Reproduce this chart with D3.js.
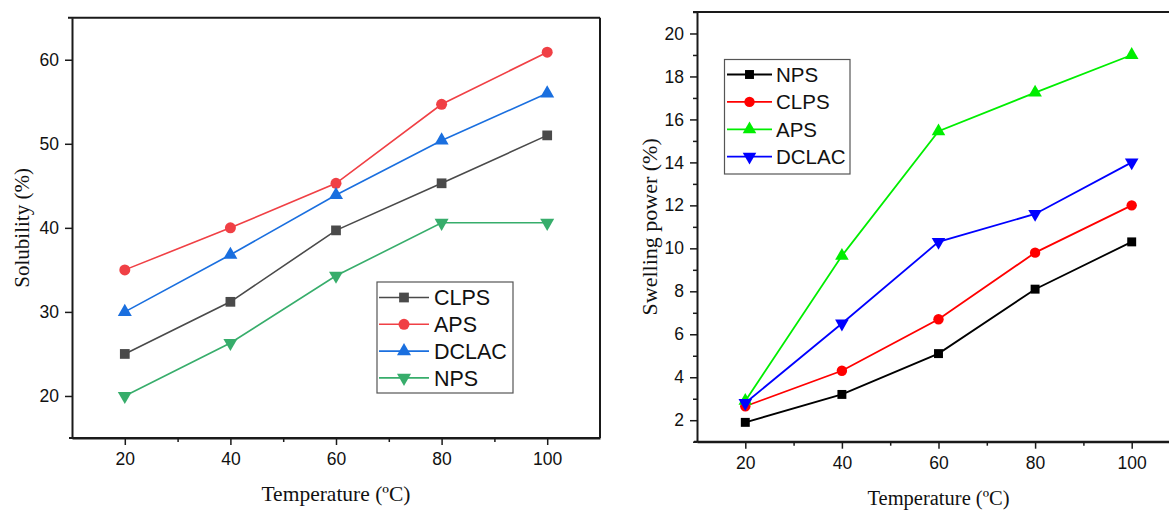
<!DOCTYPE html>
<html>
<head>
<meta charset="utf-8">
<script src="https://cdn.jsdelivr.net/npm/d3@7"></script>
<style>
  html, body { margin: 0; padding: 0; background: #fff; }
  svg { display: block; }
</style>
</head>
<body>
<svg id="chart" width="1169" height="510"></svg>
<script>
// ---------- DATA ----------
const temperatures = [20, 40, 60, 80, 100];
const xTickValues = [20, 40, 60, 80, 100];
const xMinorValues = [30, 50, 70, 90];

// Left panel: Solubility (%)
const solubilityCLPS  = [25, 31.2, 39.7, 45.3, 51.0];
const solubilityAPS   = [35, 40.0, 45.3, 54.7, 60.9];
const solubilityDCLAC = [30, 36.8, 43.9, 50.4, 56.0];
const solubilityNPS   = [20, 26.3, 34.3, 40.6, 40.6];
const solubilityYTicks = [20, 30, 40, 50, 60];
const solubilityNames = ["CLPS", "APS", "DCLAC", "NPS"];

// Right panel: Swelling power (%)
const swellingNPS   = [1.9, 3.2, 5.1, 8.1, 10.3];
const swellingCLPS  = [2.65, 4.3, 6.7, 9.8, 12.0];
const swellingAPS   = [2.9, 9.65, 15.45, 17.25, 19.0];
const swellingDCLAC = [2.8, 6.5, 10.3, 11.6, 14.0];
const swellingYTicks = [2, 4, 6, 8, 10, 12, 14, 16, 18, 20];
const swellingYMinor = [1, 3, 5, 7, 9, 11, 13, 15, 17, 19, 21];
const swellingNames = ["NPS", "CLPS", "APS", "DCLAC"];

// ---------- DRAW ----------
const svg = d3.select("#chart");
svg.append("rect").attr("width", 1169).attr("height", 510).attr("fill", "#fff");

const sans = "'Liberation Sans', Arial, sans-serif";
const serif = "'Liberation Serif', 'Times New Roman', serif";

function markerPath(type, size) {
  if (type === "square") return d3.symbol(d3.symbolSquare, size)();
  if (type === "circle") return d3.symbol(d3.symbolCircle, size)();
  return d3.symbol(d3.symbolTriangle, size)();
}

function drawPanel(cfg) {
  const g = svg.append("g");
  const x = d3.scaleLinear().domain([10, 110]).range([cfg.x0, cfg.x1]);
  const y = d3.scaleLinear().domain(cfg.yDomain).range([cfg.y0, cfg.y1]);

  // frame (top & right)
  g.append("line").attr("x1", cfg.x0 - 4).attr("x2", cfg.x1).attr("y1", cfg.y1).attr("y2", cfg.y1)
    .attr("stroke", "#1a1a1a").attr("stroke-width", 2);
  g.append("line").attr("x1", cfg.x1).attr("x2", cfg.x1).attr("y1", cfg.y1).attr("y2", cfg.y0)
    .attr("stroke", "#1a1a1a").attr("stroke-width", 2);

  // minor ticks
  const xMinor = g.append("g").attr("transform", `translate(0,${cfg.y0})`)
    .call(d3.axisBottom(x).tickValues(xMinorValues).tickSize(cfg.minorLen).tickSizeOuter(0).tickFormat(""));
  xMinor.select(".domain").remove();
  xMinor.selectAll("line").attr("stroke", "#1a1a1a").attr("stroke-width", 1.5);
  if (cfg.yMinor) {
    const yMinor = g.append("g").attr("transform", `translate(${cfg.x0},0)`)
      .call(d3.axisLeft(y).tickValues(cfg.yMinor).tickSize(cfg.minorLen).tickSizeOuter(0).tickFormat(""));
    yMinor.select(".domain").remove();
    yMinor.selectAll("line").attr("stroke", "#1a1a1a").attr("stroke-width", 1.5);
  }

  // major axes
  const xAxis = g.append("g").attr("transform", `translate(0,${cfg.y0})`)
    .call(d3.axisBottom(x).tickValues(xTickValues).tickSize(cfg.majorLen).tickSizeOuter(0).tickPadding(8));
  const yAxis = g.append("g").attr("transform", `translate(${cfg.x0},0)`)
    .call(d3.axisLeft(y).tickValues(cfg.yTicks).tickSize(cfg.majorLen).tickSizeOuter(0).tickPadding(6));
  [xAxis, yAxis].forEach(a => {
    a.select(".domain").attr("stroke", "#1a1a1a").attr("stroke-width", 2);
    a.selectAll(".tick line").attr("stroke", "#1a1a1a").attr("stroke-width", 1.5);
    a.selectAll(".tick text").attr("fill", "#111").style("font-family", sans).style("font-size", cfg.tickFont + "px");
  });
  // extend the x-axis line slightly to the left (as in the original)
  g.append("line").attr("x1", cfg.x0 - 3).attr("x2", cfg.x1).attr("y1", cfg.y0).attr("y2", cfg.y0)
    .attr("stroke", "#1a1a1a").attr("stroke-width", 2);

  // series
  const line = d3.line().x((d, i) => x(temperatures[i])).y(d => y(d));
  cfg.series.forEach(s => {
    g.append("path").datum(s.values).attr("d", line)
      .attr("fill", "none").attr("stroke", s.color).attr("stroke-width", cfg.lineWidth);
    g.selectAll(null).data(s.values).enter().append("path")
      .attr("d", markerPath(s.marker, s.size))
      .attr("transform", (d, i) => `translate(${x(temperatures[i])},${y(d)})${s.down ? " rotate(180)" : ""}`)
      .attr("fill", s.color);
  });

  // legend
  const L = cfg.legend;
  g.append("rect").attr("x", L.x).attr("y", L.y).attr("width", L.w).attr("height", L.h)
    .attr("fill", "#fff").attr("stroke", "#555").attr("stroke-width", 1.2);
  cfg.series.forEach((s, i) => {
    const cy = L.firstY + i * L.step;
    g.append("line").attr("x1", L.lineX0).attr("x2", L.lineX1).attr("y1", cy).attr("y2", cy)
      .attr("stroke", s.color).attr("stroke-width", cfg.lineWidth);
    g.append("path").attr("d", markerPath(s.marker, s.size))
      .attr("transform", `translate(${(L.lineX0 + L.lineX1) / 2},${cy})${s.down ? " rotate(180)" : ""}`)
      .attr("fill", s.color);
    g.append("text").attr("x", L.textX).attr("y", cy).attr("dy", "0.36em")
      .style("font-family", sans).style("font-size", L.font + "px").attr("fill", "#111")
      .text(s.name);
  });

  // axis titles
  g.append("text").attr("x", (cfg.x0 + Math.min(cfg.x1, 1180)) / 2).attr("y", cfg.xTitleY)
    .attr("text-anchor", "middle").style("font-family", serif).style("font-size", cfg.xTitleFont + "px")
    .attr("fill", "#111").text("Temperature (\u00BAC)");
  g.append("text")
    .attr("transform", `translate(${cfg.yTitleX},${(cfg.y0 + cfg.y1) / 2}) rotate(-90)`)
    .attr("text-anchor", "middle").style("font-family", serif).style("font-size", cfg.yTitleFont + "px")
    .attr("fill", "#111").text(cfg.yTitle);
}

const leftColors = { CLPS: "#4a4a4a", APS: "#f04045", DCLAC: "#1a6fdf", NPS: "#37ad6b" };
drawPanel({
  x0: 72, x1: 600, y0: 438, y1: 17.7,
  yDomain: [15, 65], yTicks: solubilityYTicks, yMinor: null,
  majorLen: 7, minorLen: 4, tickFont: 17.5, lineWidth: 1.6,
  series: [
    { name: solubilityNames[0], values: solubilityCLPS,  color: leftColors.CLPS,  marker: "square",   size: 95 },
    { name: solubilityNames[1], values: solubilityAPS,   color: leftColors.APS,   marker: "circle",   size: 95 },
    { name: solubilityNames[2], values: solubilityDCLAC, color: leftColors.DCLAC, marker: "triangle", size: 85 },
    { name: solubilityNames[3], values: solubilityNPS,   color: leftColors.NPS,   marker: "triangle", size: 85, down: true }
  ],
  legend: { x: 377, y: 282, w: 136, h: 111, firstY: 297.5, step: 26.8, lineX0: 379, lineX1: 429, textX: 434, font: 21.5 },
  xTitleY: 501, xTitleFont: 21.5,
  yTitle: "Solubility (%)", yTitleX: 29, yTitleFont: 21
});

const rightColors = { NPS: "#000000", CLPS: "#ff0000", APS: "#00ee00", DCLAC: "#0000ff" };
drawPanel({
  x0: 697, x1: 1180, y0: 441.7, y1: 12,
  yDomain: [1, 21], yTicks: swellingYTicks, yMinor: swellingYMinor,
  majorLen: 7, minorLen: 4, tickFont: 17.5, lineWidth: 1.8,
  series: [
    { name: swellingNames[0], values: swellingNPS,   color: rightColors.NPS,   marker: "square",   size: 80 },
    { name: swellingNames[1], values: swellingCLPS,  color: rightColors.CLPS,  marker: "circle",   size: 85 },
    { name: swellingNames[2], values: swellingAPS,   color: rightColors.APS,   marker: "triangle", size: 80 },
    { name: swellingNames[3], values: swellingDCLAC, color: rightColors.DCLAC, marker: "triangle", size: 80, down: true }
  ],
  legend: { x: 724.5, y: 59.5, w: 125.5, h: 114.5, firstY: 74.5, step: 27.4, lineX0: 727, lineX1: 772, textX: 776, font: 20.5 },
  xTitleY: 505, xTitleFont: 20.5,
  yTitle: "Swelling power (%)", yTitleX: 657, yTitleFont: 22
});
</script>
</body>
</html>
